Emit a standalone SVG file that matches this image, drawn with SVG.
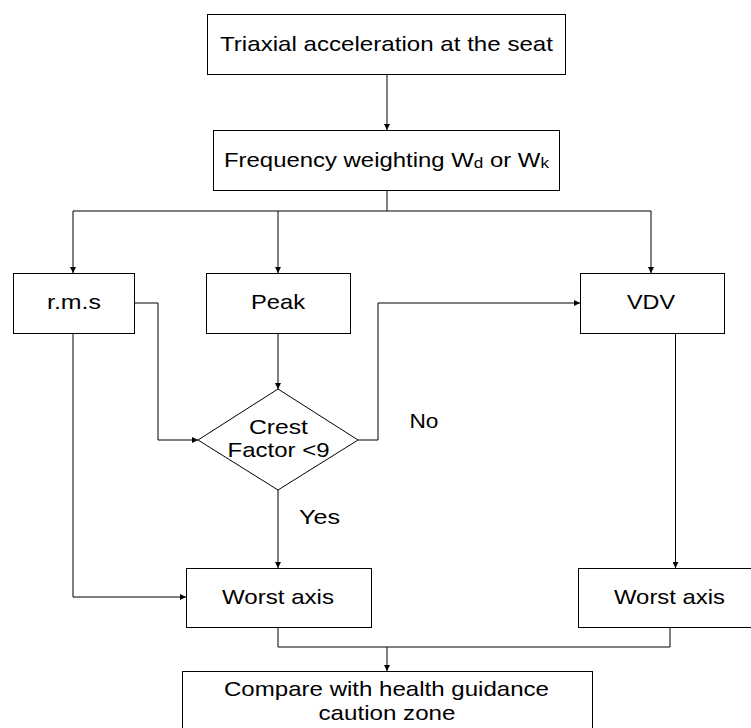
<svg xmlns="http://www.w3.org/2000/svg" width="751" height="728" viewBox="0 0 751 728">
<style>
  .box { fill: #ffffff; stroke: #000000; stroke-width: 1; }
  .edge { fill: none; stroke: #000000; stroke-width: 1; }
  .arr { marker-end: url(#ah); }
  text { font-family: "Liberation Sans", Arial, sans-serif; font-size: 21px; fill: #000000; }
  .c { text-anchor: middle; }
</style>
<defs>
  <marker id="ah" markerUnits="userSpaceOnUse" markerWidth="7" markerHeight="6" refX="6" refY="3" orient="auto">
    <path d="M0,0 L6,3 L0,6 z" fill="#000000"/>
  </marker>
</defs>
<rect width="751" height="728" fill="#ffffff"/>
<g id="connectors">
  <path class="edge arr" d="M387,74.5 V130"/>
  <path class="edge" d="M387,191 V211 M73,211 H651"/>
  <path class="edge arr" d="M73,211 V273"/>
  <path class="edge arr" d="M278,211 V273"/>
  <path class="edge arr" d="M651,211 V273"/>
  <path class="edge arr" d="M278,334 V389"/>
  <path class="edge arr" d="M134.5,303 H158 V440 H198"/>
  <path class="edge arr" d="M358,440 H378 V303 H580"/>
  <path class="edge arr" d="M278,490 V568"/>
  <path class="edge arr" d="M73,334 V597 H186"/>
  <path class="edge arr" d="M675.5,334 V568"/>
  <path class="edge" d="M278,628 V647 H670 V628"/>
  <path class="edge arr" d="M387,647 V671"/>
</g>
<g id="node-triaxial">
  <rect class="box" x="207.5" y="14.5" width="358" height="60"/>
  <text class="c" x="386.5" y="51" textLength="333" lengthAdjust="spacingAndGlyphs">Triaxial acceleration at the seat</text>
</g>
<g id="node-weighting">
  <rect class="box" x="213.5" y="130.5" width="346" height="60"/>
  <text x="224" y="167" textLength="325" lengthAdjust="spacingAndGlyphs">Frequency weighting W<tspan font-size="15" dy="1">d</tspan><tspan dy="-1"> or W</tspan><tspan font-size="15" dy="1">k</tspan></text>
</g>
<g id="node-rms">
  <rect class="box" x="13.5" y="273.5" width="121" height="60"/>
  <text class="c" x="74" y="309" textLength="54" lengthAdjust="spacingAndGlyphs">r.m.s</text>
</g>
<g id="node-peak">
  <rect class="box" x="206.5" y="273.5" width="144" height="60"/>
  <text class="c" x="278" y="309" textLength="54" lengthAdjust="spacingAndGlyphs">Peak</text>
</g>
<g id="node-vdv">
  <rect class="box" x="580.5" y="273.5" width="144" height="60"/>
  <text class="c" x="651" y="309" textLength="48" lengthAdjust="spacingAndGlyphs">VDV</text>
</g>
<g id="node-crest">
  <polygon class="box" points="278,389 358,440 278,490 198,440"/>
  <text class="c" x="278.5" y="434" textLength="59" lengthAdjust="spacingAndGlyphs">Crest</text>
  <text class="c" x="278.5" y="457" textLength="102" lengthAdjust="spacingAndGlyphs">Factor &lt;9</text>
</g>
<g id="label-no">
  <text x="409.5" y="428" textLength="29" lengthAdjust="spacingAndGlyphs">No</text>
</g>
<g id="label-yes">
  <text x="299" y="524" textLength="41" lengthAdjust="spacingAndGlyphs">Yes</text>
</g>
<g id="node-worst1">
  <rect class="box" x="186.5" y="568.5" width="185" height="59"/>
  <text class="c" x="278" y="604" textLength="112" lengthAdjust="spacingAndGlyphs">Worst axis</text>
</g>
<g id="node-worst2">
  <rect class="box" x="578.5" y="568.5" width="200" height="59"/>
  <text class="c" x="669.5" y="604" textLength="111" lengthAdjust="spacingAndGlyphs">Worst axis</text>
</g>
<g id="node-compare">
  <rect class="box" x="182.5" y="671.5" width="410" height="80"/>
  <text class="c" x="386.5" y="696" textLength="325" lengthAdjust="spacingAndGlyphs">Compare with health guidance</text>
  <text class="c" x="387" y="720" textLength="137" lengthAdjust="spacingAndGlyphs">caution zone</text>
</g>
</svg>
